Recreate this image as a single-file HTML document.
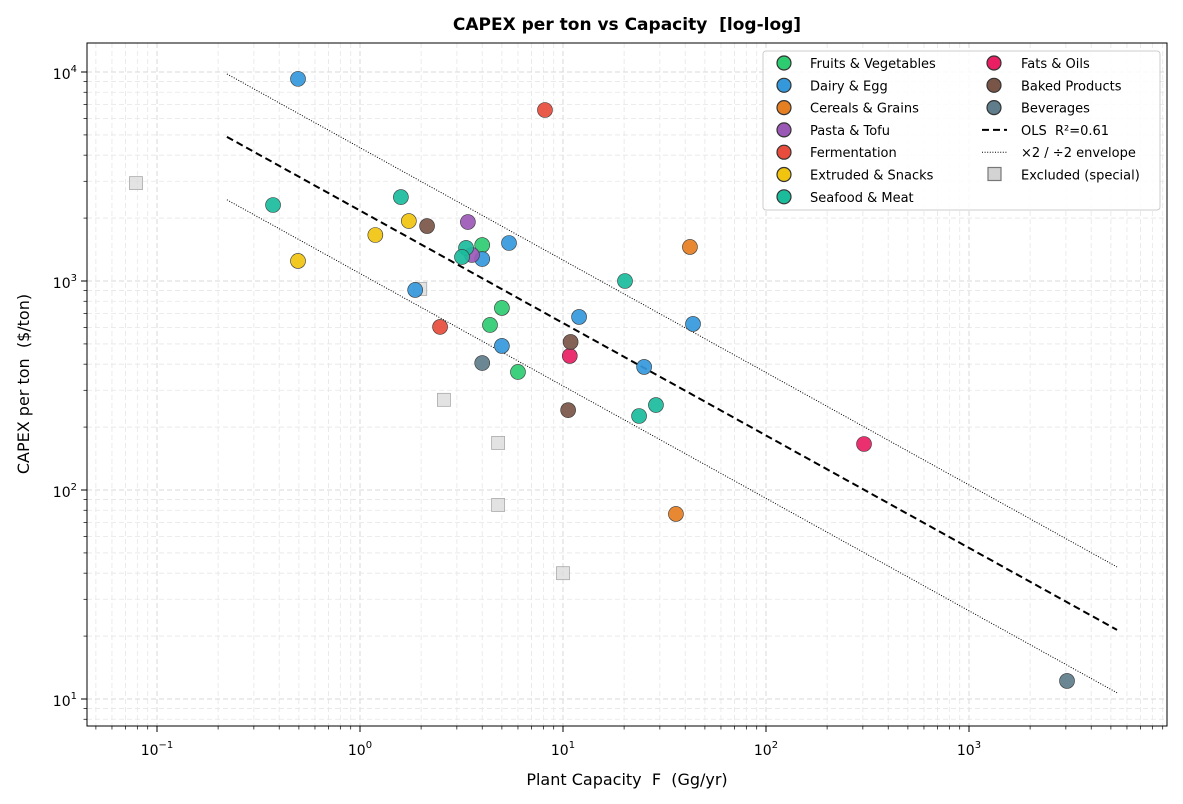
<!DOCTYPE html>
<html><head><meta charset="utf-8"><style>
body{margin:0;background:#fff;}
svg{display:block;font-family:"DejaVu Sans","Liberation Sans",sans-serif;}
text{white-space:pre;}
</style></head><body>
<svg id="chart" width="1183" height="804" xmlns="http://www.w3.org/2000/svg">
<rect width="1183" height="804" fill="#fff"/>
<g id="grid"></g><g id="lines"></g><g id="pts"></g><g id="axes"></g><g id="legend"></g>
<text x="627" y="30" text-anchor="middle" font-size="17" font-weight="bold">CAPEX per ton vs Capacity  [log-log]</text>
<text x="627" y="785" text-anchor="middle" font-size="16">Plant Capacity  F  (Gg/yr)</text>
<text transform="translate(29,384) rotate(-90)" text-anchor="middle" font-size="16">CAPEX per ton  ($/ton)</text>
</svg>
<script>
const categories=["Fruits & Vegetables","Dairy & Egg","Cereals & Grains","Pasta & Tofu","Fermentation","Extruded & Snacks","Seafood & Meat","Fats & Oils","Baked Products","Beverages"];
const colors=["#2ecc71","#3498db","#e67e22","#9b59b6","#e74c3c","#f1c40f","#1abc9c","#e91e63","#795548","#607d8b"];
const ptCat=[0,0,0,0,1,1,1,1,1,1,1,1,2,2,3,3,4,4,5,5,5,6,6,6,6,6,6,6,7,7,8,8,8,9,9];
const ptX=[5.0,4.37,6.0,4.0,0.495,1.87,4.0,5.42,5.0,12.0,25.1,43.7,42.2,36,3.40,3.56,8.15,2.48,1.74,1.19,0.495,0.373,1.59,3.33,3.18,20.2,23.7,28.7,10.8,304,2.14,10.9,10.6,4.0,3040];
const ptY=[743,616,367,1486,9270,906,1274,1520,489,673,388,623,1455,76.8,1915,1332,6580,603,1936,1660,1247,2310,2520,1440,1303,1000,226,255,438,166,1832,511,241,405,12.2];
const exX=[0.0788,1.98,2.59,4.79,4.79,10];
const exY=[2940,916,270,168,84.8,40];
const olsIntercept=3.337, olsSlope=-0.538, olsXmin=0.221, olsXmax=5360;
const xTicks=[-1,0,1,2,3], yTicks=[1,2,3,4];
const L=87,R=1167,T=43,B=726;
const X0=360,XD=203,Y0=490,YD=209;
const xs=v=>X0+XD*Math.log10(v), ys=v=>Y0-YD*(Math.log10(v)-2);
const NS="http://www.w3.org/2000/svg";
function mk(p,t,a){const e=document.createElementNS(NS,t);for(const k in a)e.setAttribute(k,a[k]);p.appendChild(e);return e;}
const grid=document.getElementById('grid'),axes=document.getElementById('axes'),lines=document.getElementById('lines'),pts=document.getElementById('pts'),leg=document.getElementById('legend');
for(let d=-2;d<=4;d++)for(let m=1;m<10;m++){const v=m*Math.pow(10,d);const x=xs(v);if(x<L||x>R)continue;
 const g=mk(grid,'line',{x1:x,x2:x,y1:T,y2:B,stroke:m==1?'#d8d8d8':'#e6e6e6','stroke-dasharray':'5,3','stroke-width':m==1?1:0.8});
 
 mk(axes,'line',{x1:x,x2:x,y1:B,y2:B+(m==1?6:3.5),stroke:'#000','stroke-width':m==1?1:0.7});}
for(let d=0;d<=5;d++)for(let m=1;m<10;m++){const v=m*Math.pow(10,d);const y=ys(v);if(y<T||y>B)continue;
 const g=mk(grid,'line',{x1:L,x2:R,y1:y,y2:y,stroke:m==1?'#d8d8d8':'#e6e6e6','stroke-dasharray':'5,3','stroke-width':m==1?1:0.8});
 
 mk(axes,'line',{x1:L,x2:L-(m==1?6:3.5),y1:y,y2:y,stroke:'#000','stroke-width':m==1?1:0.7});}
const fr=mk(axes,'rect',{x:L,y:T,width:R-L,height:B-T,fill:'none',stroke:'#000','stroke-width':1});

xTicks.forEach(e=>{const t=mk(axes,'text',{x:xs(Math.pow(10,e)),y:B+29,'text-anchor':'middle','font-size':14});
 
 t.innerHTML='10<tspan dy="-7" font-size="10">'+(e<0?'\u2212'+(-e):e)+'</tspan>';});
yTicks.forEach(e=>{const t=mk(axes,'text',{x:L-10,y:ys(Math.pow(10,e))+7,'text-anchor':'end','font-size':14});
 
 t.innerHTML='10<tspan dy="-7" font-size="10">'+e+'</tspan>';});
function lineAt(f,dash,w,name){const lx0=Math.log10(olsXmin),lx1=Math.log10(olsXmax);
 const y0=Math.pow(10,olsIntercept+olsSlope*lx0)*f,y1=Math.pow(10,olsIntercept+olsSlope*lx1)*f;
 const l=mk(lines,'line',{x1:xs(olsXmin),y1:ys(y0),x2:xs(olsXmax),y2:ys(y1),stroke:'#000','stroke-width':w,'stroke-dasharray':dash});
 }
lineAt(1,'7,4',2,'ols-line');lineAt(2,'1,1.6',1,'envelope-upper');lineAt(0.5,'1,1.6',1,'envelope-lower');
exX.forEach((v,i)=>{const r=mk(pts,'rect',{x:xs(v)-6.5,y:ys(exY[i])-6.5,width:13,height:13,fill:'#d9d9d9','fill-opacity':0.75,stroke:'#aaa','stroke-width':0.8});
 });
ptX.forEach((v,i)=>{const c=mk(pts,'circle',{cx:xs(v),cy:ys(ptY[i]),r:7.5,fill:colors[ptCat[i]],'fill-opacity':0.92,stroke:'#333','stroke-width':0.6});
 });
const lb=mk(leg,'rect',{x:763,y:51,width:397,height:159,rx:3,fill:'#fff','fill-opacity':0.85,stroke:'#ccc'});

const rowY=i=>63+i*22.3;
function ltext(x,y,s){const t=mk(leg,'text',{x:x,y:y+5,'font-size':13});t.textContent=s;
 }
categories.forEach((c,i)=>{const col=i<7?0:1,row=i<7?i:i-7;const mx=col?994:784,tx=col?1021:810;
 const m=mk(leg,'circle',{cx:mx,cy:rowY(row),r:7,fill:colors[i],stroke:'#333','stroke-width':1.2});
 ltext(tx,rowY(row),c);});
let l1=mk(leg,'line',{x1:982,x2:1007,y1:rowY(3),y2:rowY(3),stroke:'#000','stroke-width':2,'stroke-dasharray':'7,4'});
ltext(1021,rowY(3),'OLS  R²=0.61');
let l2=mk(leg,'line',{x1:982,x2:1007,y1:rowY(4),y2:rowY(4),stroke:'#000','stroke-width':1,'stroke-dasharray':'1,1.6'});
ltext(1021,rowY(4),'×2 / ÷2 envelope');
let l3=mk(leg,'rect',{x:988,y:rowY(5)-7,width:13,height:13,fill:'#d3d3d3',stroke:'#777','stroke-width':1.2});
ltext(1021,rowY(5),'Excluded (special)');
</script>
</body></html>
